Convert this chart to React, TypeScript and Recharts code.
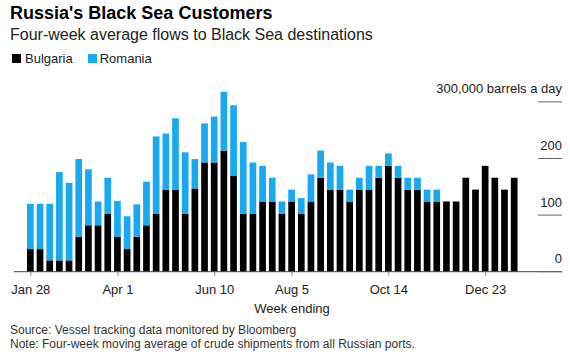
import { BarChart, Bar, XAxis, YAxis } from "recharts";

const weeks = [
    "Jan 28", "Feb 4", "Feb 11", "Feb 18", "Feb 25", "Mar 4", "Mar 11", "Mar 18", "Mar 25", "Apr 1",
    "Apr 8", "Apr 15", "Apr 22", "Apr 29", "May 6", "May 13", "May 20", "May 27", "Jun 3", "Jun 10",
    "Jun 17", "Jun 24", "Jul 1", "Jul 8", "Jul 15", "Jul 22", "Jul 29", "Aug 5", "Aug 12", "Aug 19",
    "Aug 26", "Sep 2", "Sep 9", "Sep 16", "Sep 23", "Sep 30", "Oct 7", "Oct 14", "Oct 21", "Oct 28",
    "Nov 4", "Nov 11", "Nov 18", "Nov 25", "Dec 2", "Dec 9", "Dec 16", "Dec 23", "Dec 30", "Jan 6", "Jan 13",
];

// thousand barrels a day
const bulgaria = [
    40, 40, 20, 20, 20, 62, 82, 82, 102, 62,
    40, 62, 82, 102, 145, 145, 102, 147, 193, 193,
    214, 169, 102, 102, 124, 124, 102, 124, 102, 124,
    166, 145, 145, 124, 145, 145, 166, 187, 166, 145,
    145, 124, 124, 124, 124, 166, 145, 187, 166, 145, 166,
];

const romania = [
    80, 80, 100, 156, 137, 137, 99, 42, 64, 63,
    58, 57, 77, 137, 99, 126, 109, 52, 69, 81,
    104, 125, 127, 91, 63, 42, 22, 21, 28, 48,
    48, 48, 42, 21, 21, 42, 21, 22, 21, 21,
    21, 21, 21, 0, 0, 0, 0, 0, 0, 0, 0,
];

const xTicks = ["Jan 28", "Apr 1", "Jun 10", "Aug 5", "Oct 14", "Dec 23"];
const yTicks = [0, 100, 200, 300];

const data = weeks.map((week, i) => ({
    week,
    bulgaria: bulgaria[i],
    romania: romania[i],
}));

const FONT = '"Liberation Sans", Arial, sans-serif';
const BLUE = "#19a9f1";
const PLOT_RIGHT = 562;

function YTick(props: any) {
    const { y, payload } = props;
    const label = payload.value === 300 ? "300,000 barrels a day" : String(payload.value);
    return (
        <g>
            <line x1={PLOT_RIGHT - 24} x2={PLOT_RIGHT} y1={y} y2={y} stroke="#666" strokeWidth={1} />
            <text x={PLOT_RIGHT} y={y - 8.5} textAnchor="end" fontSize={13} fill="#222" fontFamily={FONT}>
                {label}
            </text>
        </g>
    );
}

const abs = (top: number, left: number, size: number, extra: any = {}) => ({
    position: "absolute" as const,
    top,
    left,
    fontSize: size,
    lineHeight: `${size}px`,
    fontFamily: FONT,
    whiteSpace: "nowrap" as const,
    ...extra,
});

export default function App() {
    return (
        <div style={{ position: "absolute", left: 0, top: 0, width: 570, height: 357, background: "#fff", overflow: "hidden" }}>
            <div style={abs(4.3, 10, 18, { fontWeight: "bold", color: "#000" })}>Russia's Black Sea Customers</div>
            <div style={abs(27.1, 10, 16, { color: "#222" })}>Four-week average flows to Black Sea destinations</div>
            <div style={abs(52.3, 12, 13, { color: "#222", display: "flex", alignItems: "center" })}>
                <span style={{ width: 9, height: 9, background: "#000", marginRight: 4, display: "inline-block" }} />
                <span style={{ marginRight: 15 }}>Bulgaria</span>
                <span style={{ width: 9, height: 9, background: BLUE, marginRight: 3, display: "inline-block" }} />
                <span>Romania</span>
            </div>

            <div style={{ position: "absolute", left: 0, top: 0 }}>
                <BarChart
                    width={570}
                    height={357}
                    data={data}
                    margin={{ top: 91.7, right: 7, bottom: 55.3, left: 14 }}
                    barSize={6.7}
                >
                    <XAxis
                        dataKey="week"
                        ticks={xTicks}
                        interval={0}
                        height={30}
                        padding={{ left: 12, right: 42.5 }}
                        axisLine={{ stroke: "#444" }}
                        tickLine={{ stroke: "#888" }}
                        tickSize={4}
                        tickMargin={9}
                        tick={{ fontSize: 13, fill: "#222", fontFamily: FONT }}
                    />
                    <YAxis
                        orientation="right"
                        width={1}
                        domain={[0, 300]}
                        ticks={yTicks}
                        axisLine={false}
                        tickLine={false}
                        tick={<YTick />}
                    />
                    <Bar dataKey="bulgaria" stackId="a" fill="#000" isAnimationActive={false} />
                    <Bar dataKey="romania" stackId="a" fill={BLUE} isAnimationActive={false} />
                </BarChart>
            </div>

            <div style={abs(302, 292, 13, { color: "#222", transform: "translateX(-50%)" })}>Week ending</div>
            <div style={abs(324, 10, 12, { color: "#333" })}>Source: Vessel tracking data monitored by Bloomberg</div>
            <div style={abs(338, 10, 12, { color: "#333" })}>
                Note: Four-week moving average of crude shipments from all Russian ports.
            </div>
        </div>
    );
}
